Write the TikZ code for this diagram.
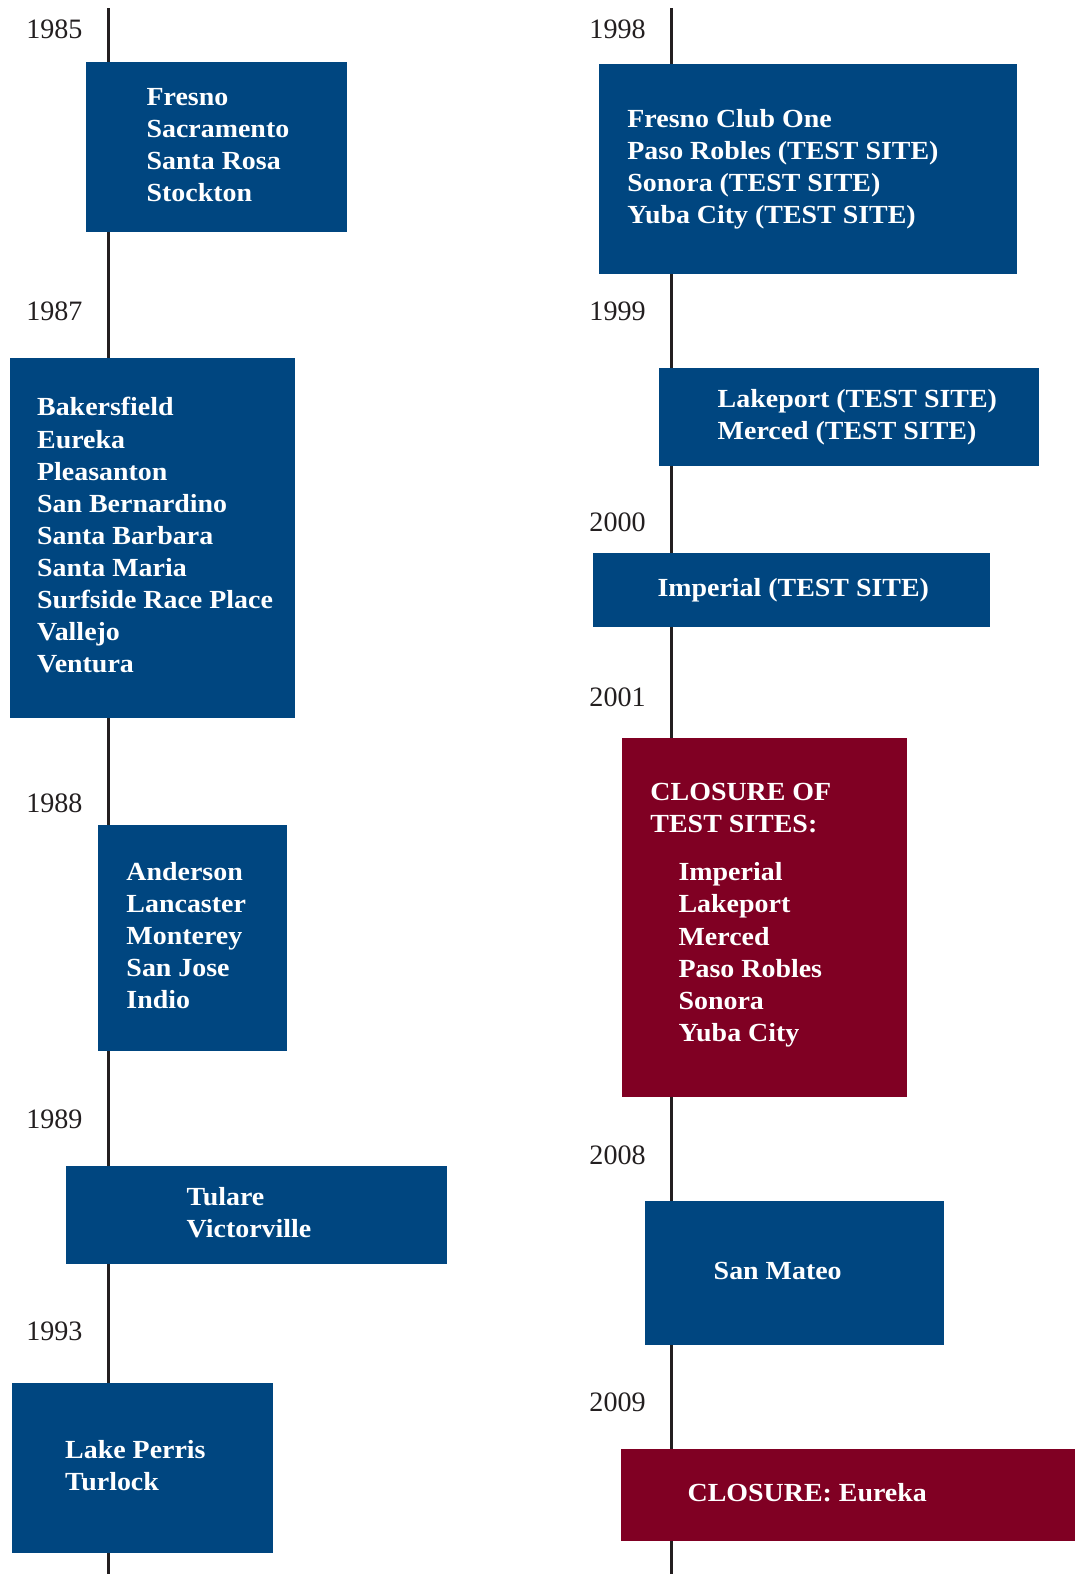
\documentclass[tikz,border=0pt]{standalone}
\usepackage{fontspec}
\setmainfont{Liberation Serif}
\newfontfamily\sitefont[FakeStretch=1.07]{Liberation Serif}
\usepackage{tikz}

\definecolor{siteblue}{RGB}{0,70,128}
\definecolor{closered}{RGB}{128,0,35}
\definecolor{axisgray}{RGB}{35,31,32}

% box text: width, left padding, lines
\newcommand\sitetext[3]{\makebox[#1pt][l]{\hspace*{#2pt}\begin{tabular}{@{}l@{}}#3\end{tabular}}}

\begin{document}
\begin{tikzpicture}[
	x=1pt,y=-1pt,
	timeline/.style={draw=axisgray,line width=2.4pt},
	year/.style={
		anchor=base west,inner sep=0pt,
		font=\fontsize{28}{32}\selectfont,
		text=axisgray,
	},
	sitebox/.style={
		anchor=north west,inner sep=0pt,outer sep=0pt,
		fill=siteblue,text=white,
		font=\sitefont\fontsize{26}{32}\selectfont\bfseries,
	},
	closebox/.style={sitebox,fill=closered},
]
\useasboundingbox (0,0) rectangle (1071,1568);

% the two time axes
\coordinate (ltop) at (108,8);
\coordinate (lbot) at (108,1568);
\coordinate (rtop) at (669,8);
\coordinate (rbot) at (669,1568);
\draw[timeline] (ltop) -- (lbot);
\draw[timeline] (rtop) -- (rbot);

% left column
\node[year] (y1985) at (26,38) {1985};
\node[sitebox,minimum height=169pt] (b1985) at (86,62) {
	\sitetext{260}{60}{Fresno\\Sacramento\\Santa Rosa\\Stockton}
};
\node[year] (y1987) at (26,319) {1987};
\node[sitebox,minimum height=358pt] (b1987) at (10,357) {
	\sitetext{284}{27}{Bakersfield\\Eureka\\Pleasanton\\San Bernardino\\Santa Barbara\\Santa Maria\\Surfside Race Place\\Vallejo\\Ventura}
};
\node[year] (y1988) at (26,809) {1988};
\node[sitebox,minimum height=225pt] (b1988) at (98,822) {
	\sitetext{188}{28}{Anderson\\Lancaster\\Monterey\\San Jose\\Indio}
};
\node[year] (y1989) at (26,1124) {1989};
\node[sitebox,minimum height=97pt] (b1989) at (66,1162) {
	\sitetext{379}{120}{Tulare\\Victorville}
};
\node[year] (y1993) at (26,1335) {1993};
\node[sitebox,minimum height=169pt] (b1993) at (12,1378) {
	\sitetext{260}{53}{Lake Perris\\Turlock}
};

% right column
\node[year] (y1998) at (587,38) {1998};
\node[sitebox,minimum height=209pt] (b1998) at (597,64) {
	\sitetext{416}{28}{Fresno Club One\\Paso Robles (TEST SITE)\\Sonora (TEST SITE)\\Yuba City (TEST SITE)}
};
\node[year] (y1999) at (587,319) {1999};
\node[sitebox,minimum height=97pt] (b1999) at (656,367) {
	\sitetext{379}{59}{Lakeport (TEST SITE)\\Merced (TEST SITE)}
};
\node[year] (y2000) at (587,529) {2000};
\node[sitebox,minimum height=74pt] (b2000) at (591,551) {
	\sitetext{395}{64}{Imperial (TEST SITE)}
};
\node[year] (y2001) at (587,704) {2001};
\node[closebox,minimum height=358pt] (b2001) at (620,735) {
	\sitetext{284}{28}{CLOSURE OF\\TEST SITES:\\[16pt]
	\hspace*{28pt}Imperial\\\hspace*{28pt}Lakeport\\\hspace*{28pt}Merced\\
	\hspace*{28pt}Paso Robles\\\hspace*{28pt}Sonora\\\hspace*{28pt}Yuba City\\[6pt]}
};
\node[year] (y2008) at (587,1160) {2008};
\node[sitebox,minimum height=144pt] (b2008) at (643,1196) {
	\sitetext{297}{68}{San Mateo}
};
\node[year] (y2009) at (587,1406) {2009};
\node[closebox,minimum height=92pt] (b2009) at (619,1443) {
	\sitetext{452}{66}{CLOSURE: Eureka}
};
\end{tikzpicture}
\end{document}
